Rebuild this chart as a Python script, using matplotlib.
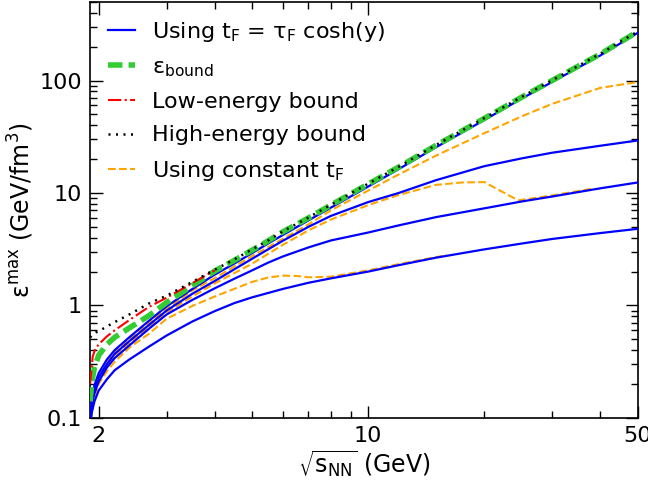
import matplotlib
matplotlib.use('Agg')
import matplotlib.pyplot as plt
from matplotlib.ticker import FixedLocator, FixedFormatter, NullFormatter

plt.rcParams['mathtext.default'] = 'regular'
plt.rcParams['font.size'] = 16

# energy grid (GeV) shared by most curves
x_low = [1.9, 1.92, 1.95, 2.0, 2.1, 2.2, 2.4, 2.7, 3.0, 3.5, 4.0, 4.5, 5, 5.5, 6, 7, 8, 10, 12, 15, 20, 25, 30, 40, 50]

# eps_bound and high-energy bound
eps_bound = [0.14, 0.21, 0.28, 0.36, 0.45, 0.52, 0.63, 0.81, 1.06, 1.5, 2.02, 2.52, 3.1, 3.75, 4.5, 6.0, 7.8, 12, 17, 26.5, 46, 71, 100, 172, 272]
high_bound = [0.52, 0.54, 0.57, 0.59, 0.65, 0.71, 0.83, 1.04, 1.22, 1.62, 2.08, 2.57, 3.15, 3.78, 4.55, 6.05, 7.85, 12.1, 17.1, 26.7, 46.3, 71.5, 100.5, 173, 273]

# low-energy bound, only up to ~4 GeV
x_red = [1.9, 1.93, 1.96, 2.0, 2.1, 2.2, 2.4, 2.7, 3.0, 3.5, 4.0]
low_bound = [0.2, 0.35, 0.41, 0.45, 0.53, 0.6, 0.74, 0.97, 1.17, 1.58, 2.05]

# t_F = tau_F cosh(y), four tau_F values
blue_1 = [0.09, 0.15, 0.195, 0.25, 0.33, 0.4, 0.52, 0.73, 0.98, 1.4, 1.88, 2.36, 2.92, 3.55, 4.22, 5.7, 7.4, 11.4, 16.3, 25.5, 44.5, 69, 97, 167, 265]
blue_2 = [0.085, 0.14, 0.18, 0.23, 0.3, 0.37, 0.48, 0.67, 0.9, 1.27, 1.65, 2.1, 2.6, 3.15, 3.75, 5.0, 6.25, 8.3, 10.0, 13.0, 17.3, 20.3, 22.8, 26.3, 29.3]
blue_3 = [0.085, 0.13, 0.165, 0.21, 0.28, 0.34, 0.44, 0.62, 0.83, 1.12, 1.42, 1.73, 2.05, 2.4, 2.72, 3.28, 3.78, 4.45, 5.15, 6.1, 7.3, 8.4, 9.3, 11.0, 12.4]
blue_4 = [0.08, 0.112, 0.14, 0.175, 0.22, 0.265, 0.33, 0.43, 0.54, 0.72, 0.89, 1.05, 1.18, 1.29, 1.4, 1.59, 1.74, 2.0, 2.28, 2.66, 3.15, 3.55, 3.9, 4.4, 4.8]

# constant t_F
orange_1 = [0.085, 0.14, 0.18, 0.23, 0.31, 0.38, 0.5, 0.7, 0.93, 1.36, 1.75, 2.22, 2.75, 3.3, 3.9, 5.25, 7.0, 10.5, 14.6, 21.5, 34, 48, 62, 86, 97]
x_or2 = [1.9, 1.92, 1.95, 2.0, 2.1, 2.2, 2.4, 2.7, 3.0, 3.5, 4.0, 5, 6, 7, 8, 10, 12, 15, 17.5, 20, 24.5, 30, 38]
orange_2 = [0.085, 0.135, 0.17, 0.22, 0.29, 0.36, 0.46, 0.65, 0.87, 1.2, 1.57, 2.35, 3.45, 4.65, 5.8, 7.8, 9.6, 11.8, 12.4, 12.5, 8.6, 9.5, 10.9]
x_or3 = [1.9, 1.92, 1.95, 2.0, 2.1, 2.2, 2.4, 2.7, 3.0, 3.5, 4.0, 5, 5.5, 6, 6.5, 7, 8, 10, 12, 16]
orange_3 = [0.08, 0.12, 0.155, 0.2, 0.26, 0.315, 0.42, 0.56, 0.76, 0.99, 1.2, 1.62, 1.77, 1.84, 1.83, 1.78, 1.8, 2.05, 2.33, 2.8]

fig = plt.figure(figsize=(6.48, 4.82), dpi=100)
ax = fig.add_axes([0.139, 0.133, 0.845, 0.863])

for xs, ys in [(x_low, orange_1), (x_or2, orange_2), (x_or3, orange_3)]:
    ax.plot(xs, ys, color='orange', ls='--', lw=1.5, zorder=2)
for ys in [blue_1, blue_2, blue_3, blue_4]:
    ax.plot(x_low, ys, color='blue', lw=1.6, zorder=3)
ax.plot(x_low, eps_bound, color='#33cc33', lw=4, dashes=(2.6, 1.1), zorder=4)
ax.plot(x_red, low_bound, color='red', ls='-.', lw=1.5, zorder=5)
ax.plot(x_low, high_bound, color='black', lw=1.8, dashes=(0.8, 2.2), zorder=6)

# legend handles
h1, = ax.plot([], [], color='blue', lw=1.6)
h2, = ax.plot([], [], color='#33cc33', lw=4, dashes=(2.6, 1.1))
h3, = ax.plot([], [], color='red', ls='-.', lw=1.5)
h4, = ax.plot([], [], color='black', lw=1.8, dashes=(0.8, 2.2))
h5, = ax.plot([], [], color='orange', ls='--', lw=1.5)
ax.legend([h1, h2, h3, h4, h5],
          ['Using t$_F$ = τ$_F$ cosh(y)', 'ε$_{bound}$', 'Low-energy bound',
           'High-energy bound', 'Using constant t$_F$'],
          loc='upper left', frameon=False, fontsize=16, handlelength=1.2,
          handletextpad=0.8, labelspacing=0.6, borderaxespad=0.4)

ax.set_xscale('log')
ax.set_yscale('log')
ax.set_xlim(1.9, 50)
ax.set_ylim(0.1, 500)

ax.xaxis.set_major_locator(FixedLocator([2, 10, 50]))
ax.xaxis.set_major_formatter(FixedFormatter(['2', '10', '50']))
ax.xaxis.set_minor_locator(FixedLocator([3, 4, 5, 6, 7, 8, 9, 20, 30, 40]))
ax.xaxis.set_minor_formatter(NullFormatter())
ax.yaxis.set_major_locator(FixedLocator([0.1, 1, 10, 100]))
ax.yaxis.set_major_formatter(FixedFormatter(['0.1', '1', '10', '100']))
ax.yaxis.set_minor_locator(FixedLocator([k * 10.0 ** e for e in range(-1, 3) for k in range(2, 10)]))
ax.yaxis.set_minor_formatter(NullFormatter())

ax.tick_params(which='both', direction='in', top=True, right=True, labelsize=16, width=1)
ax.tick_params(which='major', length=9, pad=6)
ax.tick_params(which='minor', length=5)
for s in ax.spines.values():
    s.set_linewidth(1.2)

ax.set_xlabel(r'$\sqrt{s_{NN}}$ (GeV)', fontsize=17, labelpad=1)
ax.set_ylabel('ε$^{max}$ (GeV/fm$^3$)', fontsize=17, labelpad=2)

fig.savefig('out.png', dpi=100)
